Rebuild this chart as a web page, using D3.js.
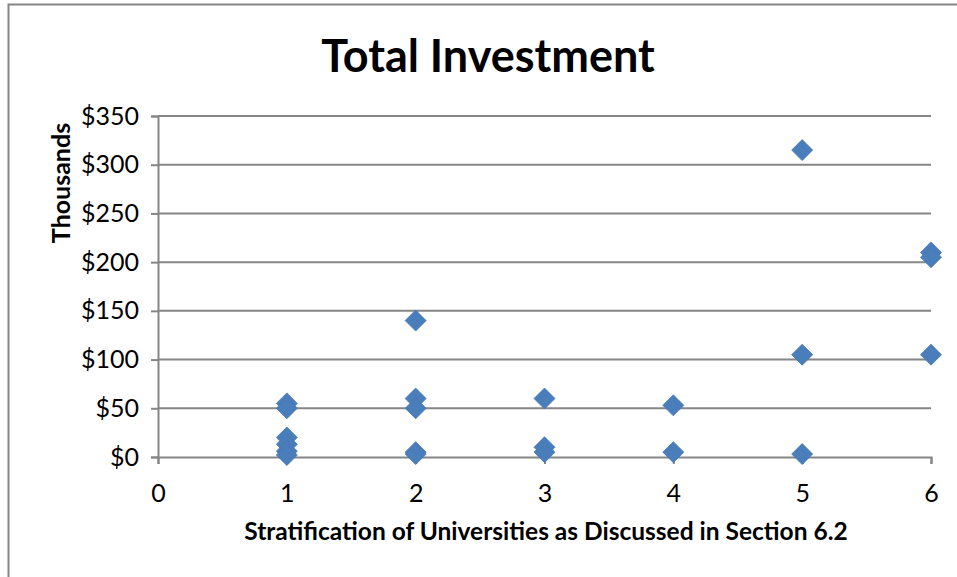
<!DOCTYPE html>
<html>
<head>
<meta charset="utf-8">
<script src="https://cdn.jsdelivr.net/npm/d3@7/dist/d3.min.js"></script>
<style>
  html, body { margin: 0; padding: 0; background: #fff; }
  svg { display: block; }
  text { font-family: Lato, "Open Sans", sans-serif; fill: #000; }
</style>
</head>
<body>
<svg id="chart" width="957" height="577"></svg>
<script>
// Stratum of each university (x) and its total investment in thousands of dollars (y)
const strata     = [1, 1, 1, 1, 1, 1, 2, 2, 2, 2, 2, 3, 3, 3, 4, 4, 5, 5, 5, 6, 6, 6];
const investment = [55, 50, 20, 13, 6, 2, 140, 60, 50, 5, 3, 60, 10, 5, 53, 5, 315, 105, 3, 210, 205, 105];

const xTicks = [0, 1, 2, 3, 4, 5, 6];
const yTicks = [0, 50, 100, 150, 200, 250, 300, 350];

const chartTitle = "Total Investment";
const xTitle = "Stratification of Universities as Discussed in Section 6.2";
const yTitle = "Thousands";

const svg = d3.select("#chart");
const W = 957, H = 577;
const plot = { left: 158, right: 931, top: 116, bottom: 457 };
const gridColor = "#868686";
const markerFill = "#4a7ebb";

// outer chart frame
svg.append("path")
  .attr("d", `M8.5,${H} L8.5,4.5 L${W},4.5`)
  .attr("fill", "none")
  .attr("stroke", gridColor)
  .attr("stroke-width", 2);

const x = d3.scaleLinear().domain([0, 6]).range([plot.left, plot.right]);
const y = d3.scaleLinear().domain([0, 350]).range([plot.bottom, plot.top]);

// horizontal gridlines
svg.append("g")
  .selectAll("line")
  .data(yTicks.filter(d => d > 0))
  .join("line")
  .attr("x1", plot.left).attr("x2", plot.right)
  .attr("y1", d => y(d)).attr("y2", d => y(d))
  .attr("stroke", gridColor).attr("stroke-width", 2);

// y axis
const yAxis = svg.append("g")
  .attr("transform", `translate(${plot.left},0)`)
  .call(d3.axisLeft(y).tickValues(yTicks).tickSize(7).tickPadding(12)
    .tickFormat(d => "$" + d));
yAxis.select(".domain").attr("stroke", gridColor).attr("stroke-width", 2);
yAxis.selectAll(".tick line").attr("stroke", gridColor).attr("stroke-width", 2);
yAxis.selectAll(".tick text")
  .attr("font-size", 25)
  .attr("font-family", "Lato, sans-serif")
  .attr("fill", "#000");

// x axis
const xAxis = svg.append("g")
  .attr("transform", `translate(0,${plot.bottom})`)
  .call(d3.axisBottom(x).tickValues(xTicks).tickSize(7).tickPadding(20)
    .tickFormat(d3.format("d")));
xAxis.select(".domain").attr("stroke", gridColor).attr("stroke-width", 2);
xAxis.selectAll(".tick line").attr("stroke", gridColor).attr("stroke-width", 2);
xAxis.selectAll(".tick text")
  .attr("font-size", 25)
  .attr("font-family", "Lato, sans-serif")
  .attr("fill", "#000");

// diamond markers
const r = 10.5;
const diamond = `M0,${-r} L${r},0 L0,${r} L${-r},0 Z`;
svg.append("g")
  .selectAll("path")
  .data(strata.map((s, i) => ({ s, v: investment[i] })))
  .join("path")
  .attr("d", diamond)
  .attr("transform", d => `translate(${x(d.s)},${y(d.v)})`)
  .attr("fill", markerFill)
  .attr("stroke", "#4577b3")
  .attr("stroke-width", 0.8);

// titles
svg.append("text")
  .attr("x", 488).attr("y", 72)
  .attr("text-anchor", "middle")
  .attr("font-size", 45)
  .attr("font-weight", "bold")
  .text(chartTitle);

svg.append("text")
  .attr("x", 546).attr("y", 540)
  .attr("text-anchor", "middle")
  .attr("font-size", 24.5)
  .attr("font-weight", "bold")
  .text(xTitle);

svg.append("text")
  .attr("transform", "translate(70,183) rotate(-90)")
  .attr("text-anchor", "middle")
  .attr("font-size", 25)
  .attr("font-weight", "bold")
  .text(yTitle);
</script>
</body>
</html>
